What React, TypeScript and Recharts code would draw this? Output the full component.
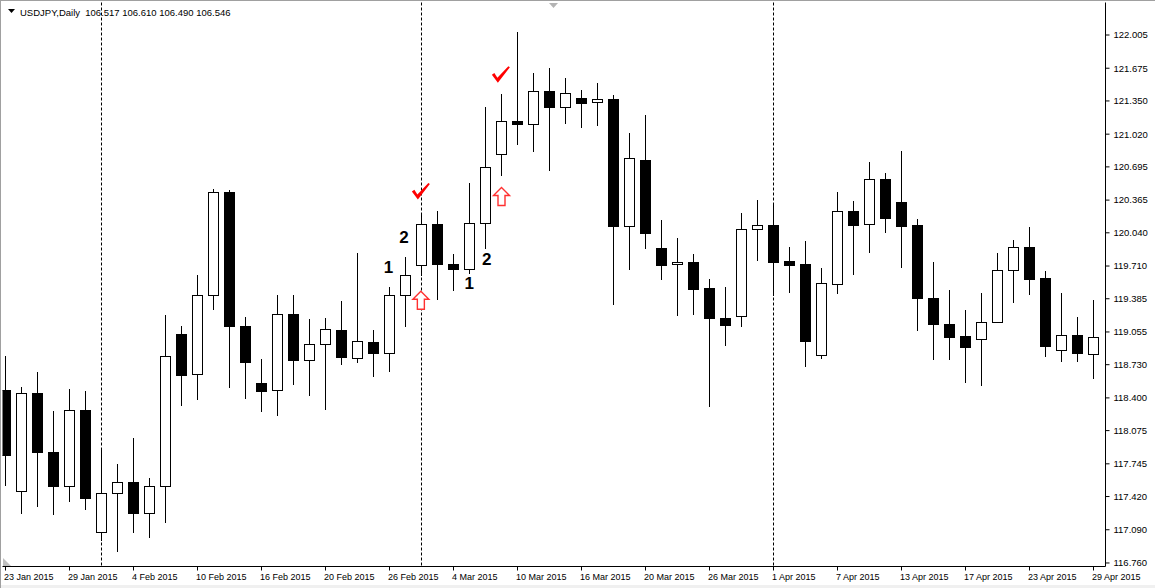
import React from 'react'
import { ComposedChart, Bar, XAxis, YAxis, CartesianGrid, ReferenceDot } from 'recharts'

const FONT = "'Liberation Sans', Arial, sans-serif"

const days = [
  '23 Jan 2015', '26 Jan 2015', '27 Jan 2015', '28 Jan 2015', '29 Jan 2015', '30 Jan 2015',
  '2 Feb 2015', '3 Feb 2015', '4 Feb 2015', '5 Feb 2015', '6 Feb 2015',
  '9 Feb 2015', '10 Feb 2015', '11 Feb 2015', '12 Feb 2015', '13 Feb 2015',
  '16 Feb 2015', '17 Feb 2015', '18 Feb 2015', '19 Feb 2015', '20 Feb 2015',
  '23 Feb 2015', '24 Feb 2015', '25 Feb 2015', '26 Feb 2015', '27 Feb 2015',
  '2 Mar 2015', '3 Mar 2015', '4 Mar 2015', '5 Mar 2015', '6 Mar 2015',
  '9 Mar 2015', '10 Mar 2015', '11 Mar 2015', '12 Mar 2015', '13 Mar 2015',
  '16 Mar 2015', '17 Mar 2015', '18 Mar 2015', '19 Mar 2015', '20 Mar 2015',
  '23 Mar 2015', '24 Mar 2015', '25 Mar 2015', '26 Mar 2015', '27 Mar 2015',
  '30 Mar 2015', '31 Mar 2015', '1 Apr 2015', '2 Apr 2015', '3 Apr 2015',
  '6 Apr 2015', '7 Apr 2015', '8 Apr 2015', '9 Apr 2015', '10 Apr 2015',
  '13 Apr 2015', '14 Apr 2015', '15 Apr 2015', '16 Apr 2015', '17 Apr 2015',
  '20 Apr 2015', '21 Apr 2015', '22 Apr 2015', '23 Apr 2015', '24 Apr 2015',
  '27 Apr 2015', '28 Apr 2015', '29 Apr 2015',
]

const opens = [
  118.48, 117.48, 118.45, 117.86, 117.52, 118.28, 117.07, 117.46, 117.56, 117.26,
  117.52, 119.03, 118.64, 119.42, 120.45, 119.11, 118.55, 118.48, 119.23, 118.78,
  118.94, 119.07, 118.80, 118.96, 118.85, 119.42, 119.72, 120.13, 119.73, 119.68,
  120.14, 120.82, 121.15, 121.12, 121.45, 121.29, 121.38, 121.34, 121.37, 120.11,
  120.76, 119.89, 119.73, 119.75, 119.49, 119.19, 119.21, 120.08, 120.12, 119.76,
  119.73, 118.83, 119.53, 120.26, 120.13, 120.57, 120.35, 120.12, 119.39, 119.13,
  119.01, 118.99, 119.15, 119.67, 119.90, 119.59, 118.88, 119.02, 118.84,
]
const highs = [
  118.82, 118.51, 118.66, 118.27, 118.49, 118.47, 117.90, 117.74, 118.00, 117.60,
  119.22, 119.11, 119.62, 120.48, 120.47, 119.20, 118.79, 119.42, 119.42, 119.18,
  119.19, 119.36, 119.84, 119.07, 119.50, 119.80, 120.23, 120.26, 119.83, 120.53,
  121.29, 121.42, 122.03, 121.63, 121.68, 121.58, 121.46, 121.53, 121.41, 121.03,
  121.21, 120.17, 119.99, 119.83, 119.58, 119.50, 120.24, 120.37, 120.34, 119.90,
  119.96, 119.69, 120.45, 120.36, 120.74, 120.63, 120.85, 120.18, 119.75, 119.47,
  119.27, 119.44, 119.84, 119.97, 120.10, 119.66, 119.44, 119.20, 119.37,
]
const lows = [
  117.53, 117.26, 117.33, 117.25, 117.38, 117.30, 116.99, 116.88, 117.07, 117.02,
  117.17, 118.33, 118.39, 119.28, 118.51, 118.40, 118.27, 118.23, 118.54, 118.43,
  118.29, 118.74, 118.76, 118.62, 118.67, 119.11, 119.62, 119.38, 119.47, 119.64,
  119.89, 120.61, 120.92, 120.85, 120.66, 121.13, 121.09, 121.11, 119.33, 119.68,
  119.89, 119.58, 119.22, 119.23, 118.32, 118.93, 119.11, 119.77, 119.42, 119.45,
  118.72, 118.80, 119.44, 119.63, 119.85, 120.05, 119.70, 119.07, 118.79, 118.79,
  118.56, 118.53, 119.15, 119.35, 119.43, 118.82, 118.77, 118.77, 118.60,
]
const closes = [
  117.83, 118.45, 117.86, 117.52, 118.28, 117.41, 117.46, 117.56, 117.26, 117.52,
  118.82, 118.63, 119.42, 120.45, 119.11, 118.76, 118.47, 119.23, 118.78, 118.94,
  119.08, 118.81, 118.97, 118.85, 119.42, 119.62, 120.13, 119.73, 119.68, 120.14,
  120.69, 121.15, 121.12, 121.45, 121.29, 121.43, 121.33, 121.37, 120.11, 120.78,
  120.04, 119.72, 119.75, 119.48, 119.19, 119.12, 120.08, 120.12, 119.75, 119.72,
  118.97, 119.54, 120.26, 120.12, 120.57, 120.19, 120.11, 119.39, 119.13, 119.00,
  118.91, 119.15, 119.67, 119.90, 119.58, 118.92, 119.02, 118.85, 119.00,
]

const priceTicks = [
  122.005, 121.675, 121.35, 121.02, 120.695, 120.365, 120.04, 119.71, 119.385,
  119.055, 118.73, 118.4, 118.075, 117.745, 117.42, 117.09, 116.76,
]

// wave counts and signals drawn on the chart
const countLabels = [
  { i: 23.93, p: 119.7, text: '1' },
  { i: 24.91, p: 119.996, text: '2' },
  { i: 28.99, p: 119.54, text: '1' },
  { i: 30.08, p: 119.77, text: '2' },
]
const checkMarks = [
  { i: 25.96, p: 120.45 },
  { i: 30.96, p: 121.61 },
]
const upArrows = [
  { i: 25.96, p: 119.37 },
  { i: 31, p: 120.4 },
]

const xDomain = [-0.1875, 68.75]
const yDomain = [116.725, 122.328]

const data = days.map((d, i) => ({
  i,
  day: d,
  o: opens[i],
  h: highs[i],
  l: lows[i],
  c: closes[i],
  range: [lows[i], highs[i]],
}))

const dateTicks = data.filter((d) => d.i % 4 === 0).map((d) => d.i)
const monthStarts = data
  .filter((d, i) => i > 0 && d.day.split(' ')[1] !== days[i - 1].split(' ')[1])
  .map((d) => d.i)

function Candle(props: any) {
  const { x, y, width, height, payload } = props
  if (x == null || !payload) return null
  const { o, h, l, c } = payload
  const top = Math.min(y, y + height)
  const span = Math.abs(height)
  const ppu = h === l ? 0 : span / (h - l)
  const py = (v: number) => top + (h - v) * ppu
  const cx = Math.floor(x + width / 2)
  const up = c >= o
  const bt = Math.round(py(Math.max(o, c)))
  const bb = Math.round(py(Math.min(o, c)))
  return (
    <g>
      <line
        x1={cx + 0.5}
        x2={cx + 0.5}
        y1={Math.round(py(h))}
        y2={Math.round(py(l)) + 1}
        stroke="#000"
        strokeWidth={1}
      />
      <rect
        x={cx - 4.5}
        y={bt + 0.5}
        width={10}
        height={Math.max(bb - bt, 1)}
        fill={up ? '#fff' : '#000'}
        stroke="#000"
        strokeWidth={1}
      />
    </g>
  )
}

function DateTick(props: any) {
  const { x, y, payload } = props
  return (
    <text x={x - 1.5} y={y + 7} fontSize={9} fontFamily={FONT} fill="#000">
      {days[payload.value]}
    </text>
  )
}

function Check({ cx, cy }: any) {
  const pts = [
    [-9, 0], [-6.5, -1.8], [-3.5, 3], [7.5, -8.5], [9, -7.5], [-3, 8],
  ]
  return (
    <polygon
      points={pts.map(([a, b]) => `${cx + a},${cy + b}`).join(' ')}
      fill="#ff0000"
    />
  )
}

function UpArrow({ cx, cy }: any) {
  const pts = [
    [0, -9], [8, -1], [3.5, -1], [3.5, 9], [-3.5, 9], [-3.5, -1], [-8, -1],
  ]
  return (
    <polygon
      points={pts.map(([a, b]) => `${cx + a},${cy + b}`).join(' ')}
      fill="#fff"
      stroke="#ff3030"
      strokeWidth={1.4}
    />
  )
}

export default function App() {
  return (
    <div
      style={{
        position: 'absolute',
        left: 0,
        top: 0,
        width: 1155,
        height: 588,
        background: '#fff',
        overflow: 'hidden',
      }}
    >
      <ComposedChart
        width={1155}
        height={588}
        data={data}
        margin={{ top: 2.5, left: 2.5, right: 0, bottom: 0 }}
      >
        <CartesianGrid
          horizontal={false}
          vertical
          verticalValues={monthStarts}
          stroke="#000"
          strokeDasharray="3 2"
        />
        <XAxis
          dataKey="i"
          type="number"
          domain={xDomain}
          allowDataOverflow
          ticks={dateTicks}
          interval={0}
          tick={<DateTick />}
          tickSize={4}
          axisLine={{ stroke: '#000' }}
          tickLine={{ stroke: '#000' }}
          height={21.5}
        />
        <XAxis
          xAxisId="top"
          orientation="top"
          type="number"
          domain={xDomain}
          allowDataOverflow
          height={0}
          tick={false}
          tickLine={false}
          axisLine={{ stroke: '#000' }}
        />
        <YAxis
          orientation="right"
          type="number"
          domain={yDomain}
          allowDataOverflow
          ticks={priceTicks}
          interval={0}
          tickFormatter={(v: number) => v.toFixed(3)}
          tick={{ fontSize: 9.5, fill: '#000', fontFamily: FONT }}
          tickSize={4}
          tickMargin={4}
          axisLine={{ stroke: '#000' }}
          tickLine={{ stroke: '#000' }}
          width={49.5}
        />
        <YAxis
          yAxisId="left"
          orientation="left"
          type="number"
          domain={[0, 1]}
          width={0}
          tick={false}
          tickLine={false}
          axisLine={{ stroke: '#000' }}
        />
        <Bar
          dataKey="range"
          barSize={11}
          isAnimationActive={false}
          shape={(p: any) => <Candle {...p} />}
        />
        {countLabels.map((m, k) => (
          <ReferenceDot
            key={'n' + k}
            x={m.i}
            y={m.p}
            r={0}
            ifOverflow="visible"
            shape={(p: any) => (
              <text
                x={p.cx}
                y={p.cy}
                textAnchor="middle"
                dominantBaseline="central"
                fontSize={17}
                fontWeight="bold"
                fontFamily={FONT}
                fill="#000"
              >
                {m.text}
              </text>
            )}
          />
        ))}
        {checkMarks.map((m, k) => (
          <ReferenceDot
            key={'c' + k}
            x={m.i}
            y={m.p}
            r={0}
            ifOverflow="visible"
            shape={(p: any) => <Check cx={p.cx} cy={p.cy} />}
          />
        ))}
        {upArrows.map((m, k) => (
          <ReferenceDot
            key={'a' + k}
            x={m.i}
            y={m.p}
            r={0}
            ifOverflow="visible"
            shape={(p: any) => <UpArrow cx={p.cx} cy={p.cy} />}
          />
        ))}
      </ComposedChart>
      <svg
        width={1155}
        height={588}
        style={{ position: 'absolute', left: 0, top: 0, pointerEvents: 'none' }}
      >
        <polygon points="8,9 15,9 11.5,13" fill="#000" />
        <text x={20} y={15.5} fontSize={9.5} fontFamily={FONT} fill="#000" xmlSpace="preserve">
          {'USDJPY,Daily  106.517 106.610 106.490 106.546'}
        </text>
        <polygon points="549,3 558,3 553.5,8" fill="#b4b4b4" />
        <polygon points="3,558 3,566 11,566" fill="#c0c0c0" />
        <rect x={0} y={585} width={1155} height={3} fill="#f0f0f0" />
        <line x1={0.5} y1={0} x2={0.5} y2={588} stroke="#a0a0a0" />
        <line x1={0} y1={0.5} x2={1155} y2={0.5} stroke="#a0a0a0" />
      </svg>
    </div>
  )
}
